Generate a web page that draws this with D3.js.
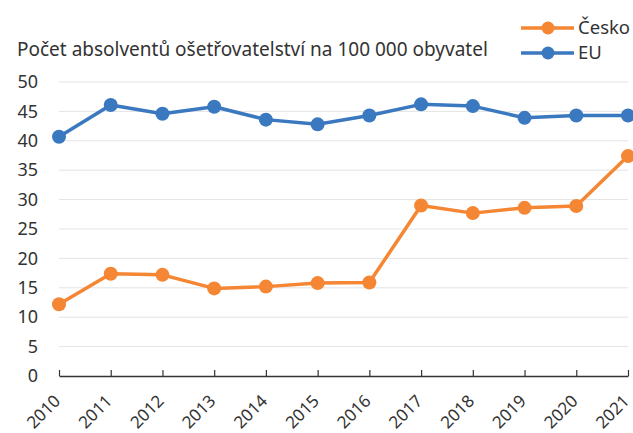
<!DOCTYPE html>
<html>
<head>
<meta charset="utf-8">
<script src="https://cdn.jsdelivr.net/npm/d3@7"></script>
<style>
  body { margin: 0; background: #fff; }
  text { font-family: "Noto Sans", "Open Sans", sans-serif; fill: #333; }
</style>
</head>
<body>
<script>
const years = ['2010', '2011', '2012', '2013', '2014', '2015', '2016', '2017', '2018', '2019', '2020', '2021']
const cesko = [12.2, 17.4, 17.2, 14.9, 15.2, 15.8, 15.9, 29.0, 27.7, 28.6, 28.9, 37.4]
const eu = [40.7, 46.1, 44.6, 45.8, 43.6, 42.8, 44.3, 46.2, 45.9, 43.9, 44.3, 44.3]
const yTicks = [0, 5, 10, 15, 20, 25, 30, 35, 40, 45, 50]
const seriesNames = ['Česko', 'EU']
const colors = ['#f58634', '#3a78bf']

const WIDTH = 633
const HEIGHT = 433
const svg = d3.select('body').append('svg').attr('width', WIDTH).attr('height', HEIGHT)

const x = d3.scalePoint().domain(years).range([59, 628])
const y = d3.scaleLinear().domain([0, 50]).range([376, 82])

// mřížka
svg.append('g')
  .selectAll('line')
  .data(yTicks.filter(d => d > 0))
  .enter()
  .append('line')
  .attr('x1', 59).attr('x2', 628)
  .attr('y1', d => y(d)).attr('y2', d => y(d))
  .attr('stroke', '#e3e3e3').attr('stroke-width', 1)

// osa y
const yAxis = svg.append('g')
  .attr('transform', 'translate(59,0)')
  .call(d3.axisLeft(y).tickValues(yTicks).tickSize(0).tickPadding(21))
yAxis.select('.domain').remove()
yAxis.selectAll('text').attr('font-size', 18).attr('fill', '#333')

// osa x
const xAxis = svg.append('g')
  .attr('transform', 'translate(0,376)')
  .call(d3.axisBottom(x).tickSizeInner(-6).tickSizeOuter(0))
xAxis.select('.domain').attr('stroke', '#333').attr('stroke-width', 1.5)
xAxis.selectAll('line').attr('stroke', '#333').attr('stroke-width', 1.2)
xAxis.selectAll('text')
  .attr('font-size', 17)
  .attr('fill', '#333')
  .attr('text-anchor', 'end')
  .attr('x', 0).attr('y', 0).attr('dy', 0)
  .attr('transform', 'translate(2,26) rotate(-45)')

// čáry a body
const line = d3.line().x((d, i) => x(years[i])).y(d => y(d))
const data = [cesko, eu]

data.forEach((vals, k) => {
  svg.append('path')
    .datum(vals)
    .attr('d', line)
    .attr('fill', 'none')
    .attr('stroke', colors[k])
    .attr('stroke-width', 3.5)
    .attr('stroke-linejoin', 'round')
  svg.append('g')
    .selectAll('circle')
    .data(vals)
    .enter()
    .append('circle')
    .attr('cx', (d, i) => x(years[i]))
    .attr('cy', d => y(d))
    .attr('r', 7)
    .attr('fill', colors[k])
})

// titulek
svg.append('text')
  .attr('x', 17).attr('y', 56)
  .attr('font-size', 19)
  .text('Počet absolventů ošetřovatelství na 100 000 obyvatel')

// legenda
const legend = svg.append('g')
  .selectAll('g')
  .data(seriesNames)
  .enter()
  .append('g')
  .attr('transform', (d, i) => `translate(521,${28 + i * 25})`)
legend.append('line')
  .attr('x1', 0).attr('x2', 53)
  .attr('stroke', (d, i) => colors[i]).attr('stroke-width', 3.5)
legend.append('circle')
  .attr('cx', 27).attr('r', 6.5)
  .attr('fill', (d, i) => colors[i])
legend.append('text')
  .attr('x', 57).attr('dy', '0.35em')
  .attr('font-size', 18.5)
  .text(d => d)
</script>
</body>
</html>
